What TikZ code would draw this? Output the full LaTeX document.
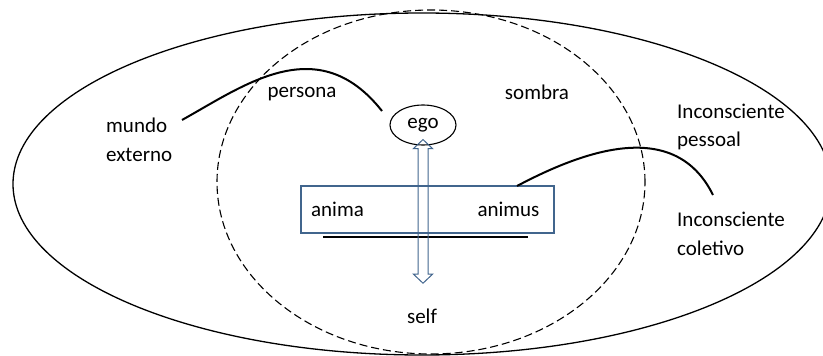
\documentclass[tikz,border=0pt]{standalone}
\usepackage{fontspec}
\setmainfont{Carlito}
\usetikzlibrary{positioning,shapes.geometric,calc}
\definecolor{slate}{HTML}{41658D}

\begin{document}
\begin{tikzpicture}[x=1pt, y=-1pt,
    labelStyle/.style={inner sep=0pt, font=\fontsize{21}{28.5}\selectfont, align=left},
    outerStyle/.style={ellipse, draw=black, line width=1.3pt, minimum width=818pt, minimum height=342pt, inner sep=0pt},
    shadowStyle/.style={ellipse, draw=black, line width=1.1pt, dash pattern=on 8pt off 4pt, minimum width=428pt, minimum height=344pt, inner sep=0pt},
    egoStyle/.style={ellipse, draw=black, line width=1.1pt, minimum width=66pt, minimum height=40pt, inner sep=0pt, font=\fontsize{21}{28.5}\selectfont},
    boxStyle/.style={rectangle, draw=slate, line width=1.3pt, minimum width=253pt, minimum height=47pt, inner sep=0pt},
    curveStyle/.style={line width=2pt},
    arrowStyle/.style={draw=slate, fill=none, line width=1pt, line join=miter}
]
    \useasboundingbox (0,0) rectangle (823,356);
    \clip (0,0) rectangle (823,356);

    % the two big ellipses
    \node[outerStyle] (outer) at (422,184) {};
    \node[shadowStyle] (shadow) at (431,182) {};

    % labels
    \node[labelStyle, anchor=west] (mundo) at (106,140) {mundo\\externo};
    \node[labelStyle, anchor=base] (persona) at (302,97) {persona};
    \node[labelStyle, anchor=base] (sombra) at (537,99) {sombra};
    \node[labelStyle, anchor=west] (pessoal) at (677,127) {Inconsciente\\pessoal};
    \node[labelStyle, anchor=west] (coletivo) at (677,234) {Inconsciente\\coletivo};
    \node[labelStyle, anchor=base] (self) at (422,323) {self};

    \node[egoStyle] (ego) at (423,125) {ego};

    % anima / animus box
    \node[boxStyle] (box) at (427.5,209.5) {};
    \node[labelStyle, anchor=base] (anima) at (337.5,216) {anima};
    \node[labelStyle, anchor=base] (animus) at (508.5,216) {animus};
    \draw[line width=1.1pt] (323,237) -- (528,237);

    % hollow double arrow ego <-> self
    \coordinate (arrTop) at ($(ego.south)+(0,-6)$);
    \coordinate (arrBot) at ($(arrTop |- self.north)+(0,-25)$);
    \draw[arrowStyle] (arrTop) -- ($(arrTop)+(9.5,9)$) -- ($(arrTop)+(5,9)$)
        -- ($(arrBot)+(5,-9)$) -- ($(arrBot)+(9.5,-9)$) -- (arrBot)
        -- ($(arrBot)+(-9.5,-9)$) -- ($(arrBot)+(-5,-9)$)
        -- ($(arrTop)+(-5,9)$) -- ($(arrTop)+(-9.5,9)$) -- cycle;

    % curved links
    \coordinate (perStart) at (182,120);
    \coordinate (perEnd) at (382,111);
    \draw[curveStyle] (perStart) .. controls (245,85) and (318,30) .. (perEnd);

    \coordinate (anStart) at (517,186);
    \coordinate (anEnd) at (713,195);
    \draw[curveStyle] (anStart) .. controls (585,150) and (675,118) .. (anEnd);
\end{tikzpicture}
\end{document}
